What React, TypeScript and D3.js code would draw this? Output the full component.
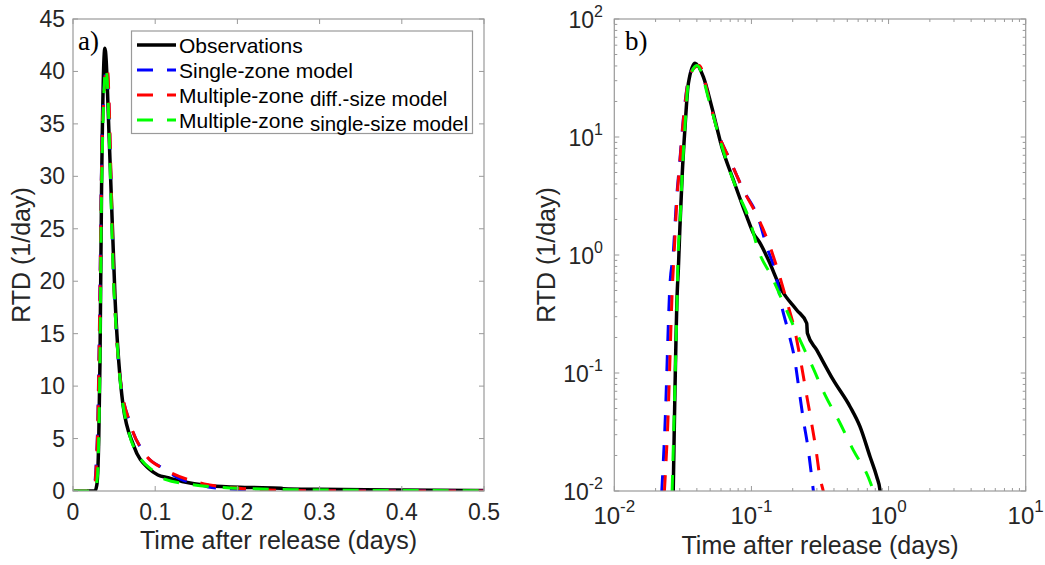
import { useEffect, useRef } from "react";
import * as d3 from "d3";

type Pt = [number, number];

// time after release (days), RTD (1/day)
const OBSERVATIONS: Pt[] = [
  [0.017, 0], [0.025, 0], [0.0269, 0.01], [0.0288, 0.5], [0.0293, 0.75], [0.0301, 1.74],
  [0.0313, 4.9], [0.0328, 12.2], [0.0347, 28.5], [0.0388, 42.2], [0.0446, 32.4],
  [0.0513, 18.1], [0.0607, 8.3], [0.0738, 4.33], [0.0925, 2.11], [0.1033, 1.53],
  [0.1156, 1.26], [0.1328, 0.91], [0.166, 0.505], [0.2138, 0.342], [0.253, 0.264],
  [0.256, 0.217], [0.299, 0.157], [0.395, 0.0873], [0.524, 0.0518], [0.619, 0.0351],
  [0.733, 0.0195], [0.82, 0.0132], [0.867, 0.0101], [0.875, 0.008],
];

const SINGLE_ZONE: Pt[] = [
  [0, 0], [0.02, 0], [0.0222, 0.01], [0.0234, 0.035], [0.0255, 0.58], [0.0269, 1.03],
  [0.0285, 3.1], [0.0298, 5.6], [0.0318, 13.9], [0.0357, 34.7], [0.041, 40.4],
  [0.0499, 19.3], [0.0574, 10.7], [0.0698, 6.38], [0.0873, 3.56], [0.1122, 2.05],
  [0.1295, 1.17], [0.151, 0.678], [0.1644, 0.39], [0.1858, 0.224], [0.208, 0.125],
  [0.2234, 0.0695], [0.2393, 0.04], [0.26, 0.0222], [0.2754, 0.013], [0.283, 0.01],
  [0.36, 0.003], [0.5, 0.001],
];

const MZ_DIFF_SIZE: Pt[] = [
  [0, 0], [0.021, 0], [0.0232, 0.01], [0.0245, 0.035], [0.0266, 0.58], [0.0273, 1.03],
  [0.0287, 3.1], [0.0299, 5.6], [0.0319, 13.9], [0.0358, 34.7], [0.0415, 40.4],
  [0.0499, 19.3], [0.0574, 10.7], [0.0698, 6.38], [0.0873, 3.56], [0.1122, 2.05],
  [0.1368, 1.17], [0.1595, 0.678], [0.183, 0.39], [0.208, 0.224], [0.229, 0.125],
  [0.25, 0.0695], [0.272, 0.04], [0.296, 0.0222], [0.316, 0.013], [0.334, 0.01],
  [0.4, 0.003], [0.5, 0.001],
];

const MZ_SINGLE_SIZE: Pt[] = [
  [0, 0], [0.024, 0], [0.0264, 0.01], [0.0288, 0.5], [0.0292, 1.0], [0.0301, 1.8],
  [0.0313, 5.0], [0.0328, 12.5], [0.0346, 28], [0.04, 40.3], [0.0499, 19],
  [0.0574, 10.5], [0.0679, 5.6], [0.0802, 3.33], [0.0977, 1.92], [0.1122, 1.1],
  [0.1406, 0.655], [0.1757, 0.365], [0.22, 0.203], [0.275, 0.117], [0.344, 0.0652],
  [0.4375, 0.0386], [0.553, 0.0222], [0.713, 0.013], [0.775, 0.01], [0.85, 0.007],
];

const SERIES = [
  { data: OBSERVATIONS, color: "#000000", dash: null, width: 3.5, label: "Observations", sub: "" },
  { data: SINGLE_ZONE, color: "#0000ff", dash: "16,14", width: 3, label: "Single-zone model", sub: "" },
  { data: MZ_DIFF_SIZE, color: "#ff0000", dash: "16,14", width: 3, label: "Multiple-zone", sub: "diff.-size model" },
  { data: MZ_SINGLE_SIZE, color: "#00ff00", dash: "16,14", width: 3, label: "Multiple-zone", sub: "single-size model" },
];

const LIN_X_TICKS = [0, 0.1, 0.2, 0.3, 0.4, 0.5];
const LIN_Y_TICKS = [0, 5, 10, 15, 20, 25, 30, 35, 40, 45];
const LOG_X_EXP = [-2, -1, 0, 1];
const LOG_Y_EXP = [-2, -1, 0, 1, 2];

const FONT = "'Liberation Sans', Arial, Helvetica, sans-serif";
const INK = "#262626";
const BOX = "#9a9a9a";

export default function App() {
  const ref = useRef<SVGSVGElement>(null);

  useEffect(() => {
    if (!ref.current) return;
    const svg = d3.select(ref.current);
    svg.selectAll("*").remove();

    const top = 19, bottom = 491;
    const defs = svg.append("defs");

    // panel a) linear
    const xa = d3.scaleLinear().domain([0, 0.5]).range([73, 484]);
    const ya = d3.scaleLinear().domain([0, 45]).range([bottom, top]);

    // panel b) log-log
    const xb = d3.scaleLog().domain([0.01, 10]).range([614.3, 1025.7]);
    const yb = d3.scaleLog().domain([0.01, 100]).range([bottom, top]);

    const panels = [
      { id: "a", x: xa as any, y: ya as any, log: false },
      { id: "b", x: xb as any, y: yb as any, log: true },
    ];

    panels.forEach((p) => {
      const [x0, x1] = p.x.range();
      defs.append("clipPath").attr("id", `clip-${p.id}`)
        .append("rect").attr("x", x0).attr("y", top).attr("width", x1 - x0).attr("height", bottom - top);

      const g = svg.append("g");
      const cg = g.append("g").attr("clip-path", `url(#clip-${p.id})`);
      SERIES.forEach((s) => {
        const pts = p.log ? s.data.filter((d) => d[1] > 0) : s.data;
        const line = d3.line<Pt>()
          .x((d) => p.x(d[0]))
          .y((d) => p.y(d[1]))
          .curve(d3.curveMonotoneX);
        cg.append("path")
          .datum(pts)
          .attr("d", line)
          .attr("fill", "none")
          .attr("stroke", s.color)
          .attr("stroke-width", s.width)
          .attr("stroke-linejoin", "round")
          .attr("stroke-dasharray", s.dash ?? "none");
      });

      // box
      g.append("rect").attr("x", x0).attr("y", top).attr("width", x1 - x0).attr("height", bottom - top)
        .attr("fill", "none").attr("stroke", BOX).attr("stroke-width", 1.2);

      const ticks = g.append("g").attr("stroke", BOX).attr("stroke-width", 1);
      const labels = g.append("g").attr("font-family", FONT).attr("fill", INK);

      if (!p.log) {
        LIN_X_TICKS.forEach((t) => {
          const px = p.x(t);
          ticks.append("line").attr("x1", px).attr("x2", px).attr("y1", bottom).attr("y2", bottom - 5);
          ticks.append("line").attr("x1", px).attr("x2", px).attr("y1", top).attr("y2", top + 5);
          labels.append("text").attr("x", px).attr("y", 520).attr("text-anchor", "middle")
            .attr("font-size", 23).text(String(t));
        });
        LIN_Y_TICKS.forEach((t) => {
          const py = p.y(t);
          ticks.append("line").attr("x1", x0).attr("x2", x0 + 5).attr("y1", py).attr("y2", py);
          ticks.append("line").attr("x1", x1).attr("x2", x1 - 5).attr("y1", py).attr("y2", py);
          labels.append("text").attr("x", 65).attr("y", py + 8).attr("text-anchor", "end")
            .attr("font-size", 23).text(String(t));
        });
      } else {
        p.x.ticks().forEach((t: number) => {
          const major = Math.abs(Math.log10(t) - Math.round(Math.log10(t))) < 1e-9;
          const len = major ? 5 : 3;
          const px = p.x(t);
          ticks.append("line").attr("x1", px).attr("x2", px).attr("y1", bottom).attr("y2", bottom - len);
          ticks.append("line").attr("x1", px).attr("x2", px).attr("y1", top).attr("y2", top + len);
        });
        p.y.ticks().forEach((t: number) => {
          const major = Math.abs(Math.log10(t) - Math.round(Math.log10(t))) < 1e-9;
          const len = major ? 5 : 3;
          const py = p.y(t);
          ticks.append("line").attr("x1", x0).attr("x2", x0 + len).attr("y1", py).attr("y2", py);
          ticks.append("line").attr("x1", x1).attr("x2", x1 - len).attr("y1", py).attr("y2", py);
        });
        LOG_X_EXP.forEach((e) => {
          const px = p.x(Math.pow(10, e));
          const t = labels.append("text").attr("x", px).attr("y", 524).attr("text-anchor", "middle")
            .attr("font-size", 24);
          t.append("tspan").text("10");
          t.append("tspan").attr("dy", -12).attr("font-size", 17).text(String(e));
        });
        LOG_Y_EXP.forEach((e) => {
          const py = p.y(Math.pow(10, e));
          const t = labels.append("text").attr("x", 603).attr("y", py + 9).attr("text-anchor", "end")
            .attr("font-size", 23);
          t.append("tspan").text("10");
          t.append("tspan").attr("dy", -11).attr("font-size", 16).text(String(e));
        });
      }

      // axis titles
      labels.append("text").attr("x", (x0 + x1) / 2).attr("y", p.log ? 554 : 549)
        .attr("text-anchor", "middle").attr("font-size", 25).text("Time after release (days)");
      const yl = p.log ? 555 : 30;
      labels.append("text").attr("transform", `translate(${yl},${(top + bottom) / 2}) rotate(-90)`)
        .attr("text-anchor", "middle").attr("font-size", 25).text("RTD (1/day)");

      // panel letter
      g.append("text").attr("x", p.log ? 625 : 78).attr("y", 50)
        .attr("font-family", "'Liberation Serif', 'Times New Roman', serif")
        .attr("font-size", 27).attr("fill", "#000").text(p.log ? "b)" : "a)");
    });

    // legend
    const lg = svg.append("g").attr("font-family", FONT).attr("fill", "#000");
    lg.append("rect").attr("x", 131.5).attr("y", 31).attr("width", 341).attr("height", 102.5)
      .attr("fill", "#fff").attr("stroke", BOX).attr("stroke-width", 1.2);
    SERIES.forEach((s, i) => {
      const cy = 45 + i * 25;
      lg.append("line").attr("x1", 137).attr("x2", 176).attr("y1", cy).attr("y2", cy)
        .attr("stroke", s.color).attr("stroke-width", s.width)
        .attr("stroke-dasharray", s.dash ?? "none");
      const t = lg.append("text").attr("x", 179).attr("y", cy + 7.5).attr("font-size", 21);
      t.append("tspan").text(s.label);
      if (s.sub) t.append("tspan").attr("dx", 6).attr("dy", 3).attr("font-size", 20.5).text(s.sub);
    });
  }, []);

  return (
    <svg
      ref={ref}
      width={1045}
      height={565}
      style={{ position: "absolute", left: 0, top: 0, background: "#fff", display: "block" }}
    />
  );
}
